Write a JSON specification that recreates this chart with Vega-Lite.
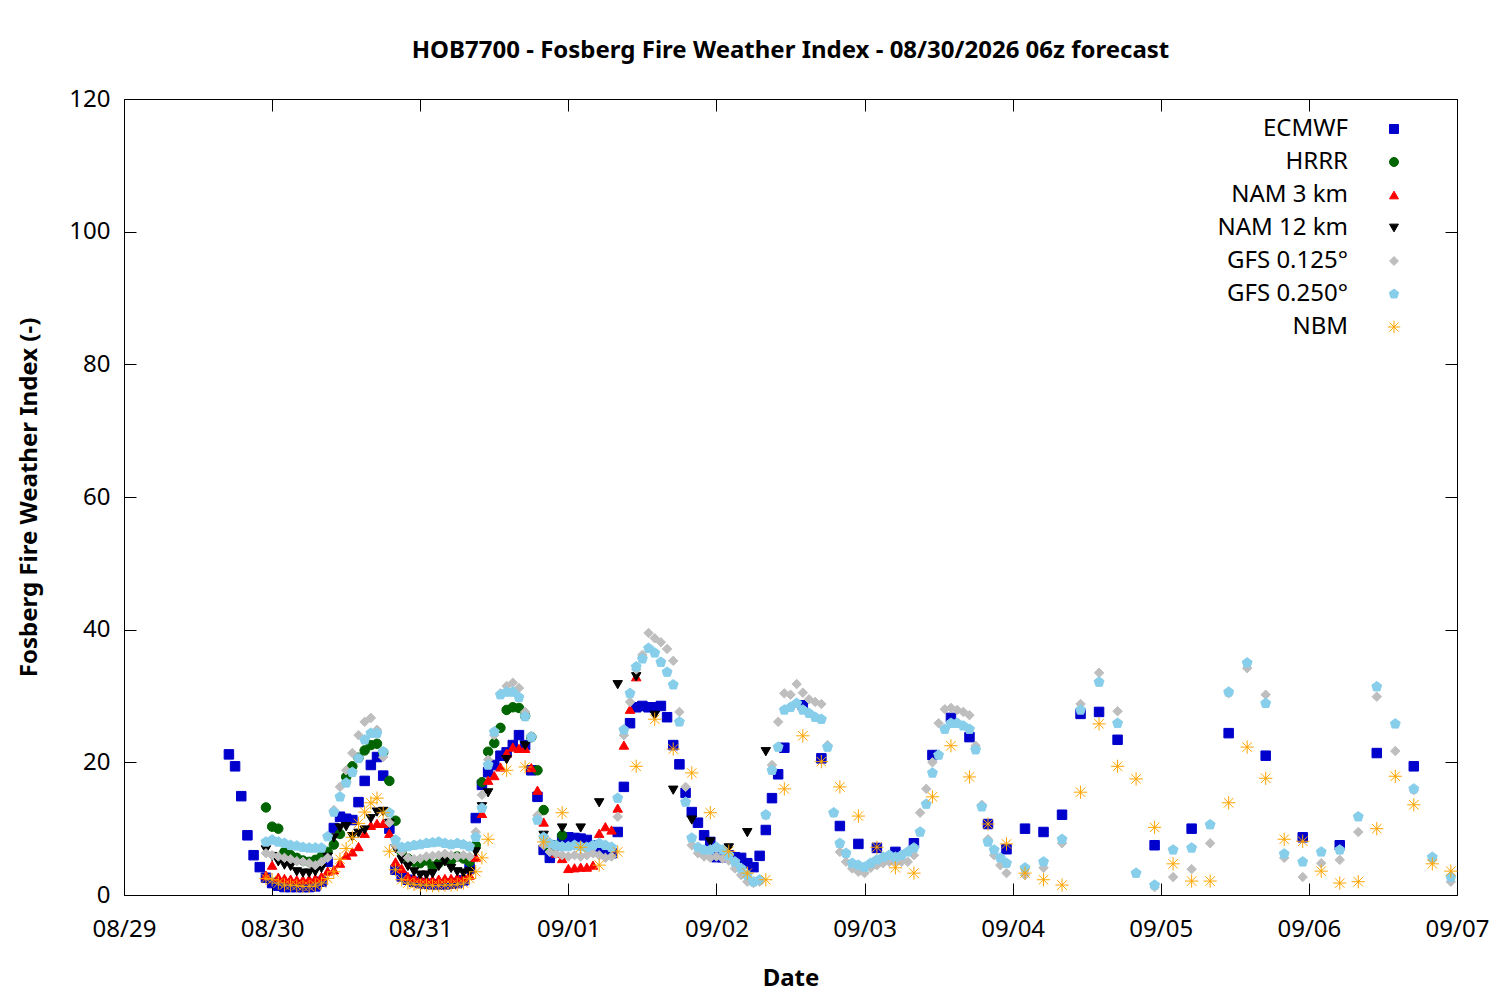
{
"$schema": "https://vega.github.io/schema/vega-lite/v6.json",
"width": 1333, "height": 796,
"autosize": {"type": "none"},
"padding": {"left": 124, "top": 99, "right": 43, "bottom": 105},
"background": "white",
"config": {
  "font": "Noto Sans",
  "view": {"stroke": "black", "strokeWidth": 1},
  "axis": {"domain": false, "grid": false, "tickColor": "black", "tickSize": -12, "tickWidth": 1,
           "labelFont": "Noto Sans", "labelFontSize": 24, "labelColor": "black",
           "titleFont": "Noto Sans", "titleFontSize": 24, "titleFontWeight": "bold", "titleColor": "black"}
},
"title": {"text": "HOB7700 - Fosberg Fire Weather Index - 08/30/2026 06z forecast", "font": "Noto Sans", "fontSize": 24, "fontWeight": "bold", "color": "black", "anchor": "middle", "offset": 24},
"datasets": {"fwi": [
{"m":"ECMWF","t":"2026-08-29T17:00Z","v":21.2},{"m":"ECMWF","t":"2026-08-29T18:00Z","v":19.4},{"m":"ECMWF","t":"2026-08-29T19:00Z","v":14.9},{"m":"ECMWF","t":"2026-08-29T20:00Z","v":9.0},{"m":"ECMWF","t":"2026-08-29T21:00Z","v":6.0},{"m":"ECMWF","t":"2026-08-29T22:00Z","v":4.2},{"m":"ECMWF","t":"2026-08-29T23:00Z","v":2.6},
{"m":"ECMWF","t":"2026-08-30T00:00Z","v":1.8},{"m":"ECMWF","t":"2026-08-30T01:00Z","v":1.4},{"m":"ECMWF","t":"2026-08-30T02:00Z","v":1.2},{"m":"ECMWF","t":"2026-08-30T03:00Z","v":1.2},{"m":"ECMWF","t":"2026-08-30T04:00Z","v":1.2},{"m":"ECMWF","t":"2026-08-30T05:00Z","v":1.2},{"m":"ECMWF","t":"2026-08-30T06:00Z","v":1.2},{"m":"ECMWF","t":"2026-08-30T07:00Z","v":1.3},{"m":"ECMWF","t":"2026-08-30T08:00Z","v":2.0},{"m":"ECMWF","t":"2026-08-30T09:00Z","v":5.0},{"m":"ECMWF","t":"2026-08-30T10:00Z","v":10.1},{"m":"ECMWF","t":"2026-08-30T11:00Z","v":11.8},{"m":"ECMWF","t":"2026-08-30T12:00Z","v":11.5},{"m":"ECMWF","t":"2026-08-30T13:00Z","v":11.3},{"m":"ECMWF","t":"2026-08-30T14:00Z","v":14.0},{"m":"ECMWF","t":"2026-08-30T15:00Z","v":17.2},{"m":"ECMWF","t":"2026-08-30T16:00Z","v":19.6},{"m":"ECMWF","t":"2026-08-30T17:00Z","v":20.8},{"m":"ECMWF","t":"2026-08-30T18:00Z","v":18.0},{"m":"ECMWF","t":"2026-08-30T19:00Z","v":10.0},{"m":"ECMWF","t":"2026-08-30T20:00Z","v":3.8},{"m":"ECMWF","t":"2026-08-30T21:00Z","v":2.8},{"m":"ECMWF","t":"2026-08-30T22:00Z","v":2.3},{"m":"ECMWF","t":"2026-08-30T23:00Z","v":2.0},
{"m":"ECMWF","t":"2026-08-31T00:00Z","v":1.8},{"m":"ECMWF","t":"2026-08-31T01:00Z","v":1.7},{"m":"ECMWF","t":"2026-08-31T02:00Z","v":1.6},{"m":"ECMWF","t":"2026-08-31T03:00Z","v":1.6},{"m":"ECMWF","t":"2026-08-31T04:00Z","v":1.6},{"m":"ECMWF","t":"2026-08-31T05:00Z","v":1.7},{"m":"ECMWF","t":"2026-08-31T06:00Z","v":1.8},{"m":"ECMWF","t":"2026-08-31T07:00Z","v":2.2},{"m":"ECMWF","t":"2026-08-31T08:00Z","v":4.0},{"m":"ECMWF","t":"2026-08-31T09:00Z","v":11.6},{"m":"ECMWF","t":"2026-08-31T10:00Z","v":16.6},{"m":"ECMWF","t":"2026-08-31T11:00Z","v":18.5},{"m":"ECMWF","t":"2026-08-31T12:00Z","v":19.6},{"m":"ECMWF","t":"2026-08-31T13:00Z","v":21.0},{"m":"ECMWF","t":"2026-08-31T14:00Z","v":21.5},{"m":"ECMWF","t":"2026-08-31T15:00Z","v":22.6},{"m":"ECMWF","t":"2026-08-31T16:00Z","v":24.1},{"m":"ECMWF","t":"2026-08-31T17:00Z","v":22.6},{"m":"ECMWF","t":"2026-08-31T18:00Z","v":18.8},{"m":"ECMWF","t":"2026-08-31T19:00Z","v":14.8},{"m":"ECMWF","t":"2026-08-31T20:00Z","v":6.8},{"m":"ECMWF","t":"2026-08-31T21:00Z","v":5.6},{"m":"ECMWF","t":"2026-08-31T22:00Z","v":7.5},{"m":"ECMWF","t":"2026-08-31T23:00Z","v":8.5},
{"m":"ECMWF","t":"2026-09-01T00:00Z","v":8.7},{"m":"ECMWF","t":"2026-09-01T01:00Z","v":8.6},{"m":"ECMWF","t":"2026-09-01T02:00Z","v":8.5},{"m":"ECMWF","t":"2026-09-01T03:00Z","v":8.3},{"m":"ECMWF","t":"2026-09-01T04:00Z","v":7.5},{"m":"ECMWF","t":"2026-09-01T05:00Z","v":6.8},{"m":"ECMWF","t":"2026-09-01T06:00Z","v":6.3},{"m":"ECMWF","t":"2026-09-01T07:00Z","v":6.3},{"m":"ECMWF","t":"2026-09-01T08:00Z","v":9.5},{"m":"ECMWF","t":"2026-09-01T09:00Z","v":16.3},{"m":"ECMWF","t":"2026-09-01T10:00Z","v":25.9},{"m":"ECMWF","t":"2026-09-01T11:00Z","v":28.3},{"m":"ECMWF","t":"2026-09-01T12:00Z","v":28.5},{"m":"ECMWF","t":"2026-09-01T13:00Z","v":28.3},{"m":"ECMWF","t":"2026-09-01T14:00Z","v":28.3},{"m":"ECMWF","t":"2026-09-01T15:00Z","v":28.5},{"m":"ECMWF","t":"2026-09-01T16:00Z","v":26.8},{"m":"ECMWF","t":"2026-09-01T17:00Z","v":22.6},{"m":"ECMWF","t":"2026-09-01T18:00Z","v":19.7},{"m":"ECMWF","t":"2026-09-01T19:00Z","v":15.4},{"m":"ECMWF","t":"2026-09-01T20:00Z","v":12.5},{"m":"ECMWF","t":"2026-09-01T21:00Z","v":10.9},{"m":"ECMWF","t":"2026-09-01T22:00Z","v":9.0},{"m":"ECMWF","t":"2026-09-01T23:00Z","v":8.0},
{"m":"ECMWF","t":"2026-09-02T00:00Z","v":5.7},{"m":"ECMWF","t":"2026-09-02T01:00Z","v":5.7},{"m":"ECMWF","t":"2026-09-02T02:00Z","v":6.0},{"m":"ECMWF","t":"2026-09-02T03:00Z","v":5.7},{"m":"ECMWF","t":"2026-09-02T04:00Z","v":5.6},{"m":"ECMWF","t":"2026-09-02T05:00Z","v":4.8},{"m":"ECMWF","t":"2026-09-02T06:00Z","v":4.2},{"m":"ECMWF","t":"2026-09-02T07:00Z","v":5.9},{"m":"ECMWF","t":"2026-09-02T08:00Z","v":9.8},{"m":"ECMWF","t":"2026-09-02T09:00Z","v":14.6},{"m":"ECMWF","t":"2026-09-02T10:00Z","v":18.2},{"m":"ECMWF","t":"2026-09-02T11:00Z","v":22.2},{"m":"ECMWF","t":"2026-09-02T14:00Z","v":28.6},{"m":"ECMWF","t":"2026-09-02T17:00Z","v":20.6},{"m":"ECMWF","t":"2026-09-02T20:00Z","v":10.4},{"m":"ECMWF","t":"2026-09-02T23:00Z","v":7.7},
{"m":"ECMWF","t":"2026-09-03T02:00Z","v":7.1},{"m":"ECMWF","t":"2026-09-03T05:00Z","v":6.5},{"m":"ECMWF","t":"2026-09-03T08:00Z","v":7.8},{"m":"ECMWF","t":"2026-09-03T11:00Z","v":21.1},{"m":"ECMWF","t":"2026-09-03T14:00Z","v":26.7},{"m":"ECMWF","t":"2026-09-03T17:00Z","v":23.8},{"m":"ECMWF","t":"2026-09-03T20:00Z","v":10.7},{"m":"ECMWF","t":"2026-09-03T23:00Z","v":6.9},
{"m":"ECMWF","t":"2026-09-04T02:00Z","v":10.0},{"m":"ECMWF","t":"2026-09-04T05:00Z","v":9.5},{"m":"ECMWF","t":"2026-09-04T08:00Z","v":12.1},{"m":"ECMWF","t":"2026-09-04T11:00Z","v":27.3},{"m":"ECMWF","t":"2026-09-04T14:00Z","v":27.6},{"m":"ECMWF","t":"2026-09-04T17:00Z","v":23.4},{"m":"ECMWF","t":"2026-09-04T23:00Z","v":7.5},
{"m":"ECMWF","t":"2026-09-05T05:00Z","v":10.0},{"m":"ECMWF","t":"2026-09-05T11:00Z","v":24.4},{"m":"ECMWF","t":"2026-09-05T17:00Z","v":21.0},{"m":"ECMWF","t":"2026-09-05T23:00Z","v":8.7},
{"m":"ECMWF","t":"2026-09-06T05:00Z","v":7.5},{"m":"ECMWF","t":"2026-09-06T11:00Z","v":21.4},{"m":"ECMWF","t":"2026-09-06T17:00Z","v":19.4},

{"m":"HRRR","t":"2026-08-29T23:00Z","v":13.2},
{"m":"HRRR","t":"2026-08-30T00:00Z","v":10.3},{"m":"HRRR","t":"2026-08-30T01:00Z","v":10.0},{"m":"HRRR","t":"2026-08-30T02:00Z","v":6.5},{"m":"HRRR","t":"2026-08-30T03:00Z","v":6.0},{"m":"HRRR","t":"2026-08-30T04:00Z","v":5.6},{"m":"HRRR","t":"2026-08-30T05:00Z","v":5.2},{"m":"HRRR","t":"2026-08-30T06:00Z","v":5.0},{"m":"HRRR","t":"2026-08-30T07:00Z","v":5.3},{"m":"HRRR","t":"2026-08-30T08:00Z","v":5.8},{"m":"HRRR","t":"2026-08-30T09:00Z","v":6.5},{"m":"HRRR","t":"2026-08-30T10:00Z","v":7.6},{"m":"HRRR","t":"2026-08-30T11:00Z","v":9.2},{"m":"HRRR","t":"2026-08-30T12:00Z","v":17.8},{"m":"HRRR","t":"2026-08-30T13:00Z","v":19.4},{"m":"HRRR","t":"2026-08-30T14:00Z","v":20.7},{"m":"HRRR","t":"2026-08-30T15:00Z","v":21.8},{"m":"HRRR","t":"2026-08-30T16:00Z","v":22.6},{"m":"HRRR","t":"2026-08-30T17:00Z","v":22.8},{"m":"HRRR","t":"2026-08-30T18:00Z","v":21.5},{"m":"HRRR","t":"2026-08-30T19:00Z","v":17.2},{"m":"HRRR","t":"2026-08-30T20:00Z","v":11.2},{"m":"HRRR","t":"2026-08-30T21:00Z","v":6.5},{"m":"HRRR","t":"2026-08-30T22:00Z","v":5.5},{"m":"HRRR","t":"2026-08-30T23:00Z","v":5.0},
{"m":"HRRR","t":"2026-08-31T00:00Z","v":4.8},{"m":"HRRR","t":"2026-08-31T01:00Z","v":5.2},{"m":"HRRR","t":"2026-08-31T02:00Z","v":4.3},{"m":"HRRR","t":"2026-08-31T03:00Z","v":4.8},{"m":"HRRR","t":"2026-08-31T04:00Z","v":5.4},{"m":"HRRR","t":"2026-08-31T05:00Z","v":5.2},{"m":"HRRR","t":"2026-08-31T06:00Z","v":5.8},{"m":"HRRR","t":"2026-08-31T07:00Z","v":5.5},{"m":"HRRR","t":"2026-08-31T08:00Z","v":5.0},{"m":"HRRR","t":"2026-08-31T09:00Z","v":7.5},{"m":"HRRR","t":"2026-08-31T10:00Z","v":17.0},{"m":"HRRR","t":"2026-08-31T11:00Z","v":21.6},{"m":"HRRR","t":"2026-08-31T12:00Z","v":22.9},{"m":"HRRR","t":"2026-08-31T13:00Z","v":25.2},{"m":"HRRR","t":"2026-08-31T14:00Z","v":27.9},{"m":"HRRR","t":"2026-08-31T15:00Z","v":28.3},{"m":"HRRR","t":"2026-08-31T16:00Z","v":28.2},{"m":"HRRR","t":"2026-08-31T17:00Z","v":27.0},{"m":"HRRR","t":"2026-08-31T18:00Z","v":23.8},{"m":"HRRR","t":"2026-08-31T19:00Z","v":18.8},{"m":"HRRR","t":"2026-08-31T20:00Z","v":12.8},{"m":"HRRR","t":"2026-08-31T21:00Z","v":7.0},{"m":"HRRR","t":"2026-08-31T22:00Z","v":7.5},{"m":"HRRR","t":"2026-08-31T23:00Z","v":9.0},

{"m":"NAM 3 km","t":"2026-08-29T23:00Z","v":3.0},
{"m":"NAM 3 km","t":"2026-08-30T00:00Z","v":4.5},{"m":"NAM 3 km","t":"2026-08-30T01:00Z","v":2.7},{"m":"NAM 3 km","t":"2026-08-30T02:00Z","v":2.5},{"m":"NAM 3 km","t":"2026-08-30T03:00Z","v":2.4},{"m":"NAM 3 km","t":"2026-08-30T04:00Z","v":2.3},{"m":"NAM 3 km","t":"2026-08-30T05:00Z","v":2.3},{"m":"NAM 3 km","t":"2026-08-30T06:00Z","v":2.4},{"m":"NAM 3 km","t":"2026-08-30T07:00Z","v":2.5},{"m":"NAM 3 km","t":"2026-08-30T08:00Z","v":2.8},{"m":"NAM 3 km","t":"2026-08-30T09:00Z","v":3.6},{"m":"NAM 3 km","t":"2026-08-30T10:00Z","v":3.8},{"m":"NAM 3 km","t":"2026-08-30T11:00Z","v":4.8},{"m":"NAM 3 km","t":"2026-08-30T12:00Z","v":6.0},{"m":"NAM 3 km","t":"2026-08-30T13:00Z","v":6.5},{"m":"NAM 3 km","t":"2026-08-30T14:00Z","v":7.3},{"m":"NAM 3 km","t":"2026-08-30T15:00Z","v":9.3},{"m":"NAM 3 km","t":"2026-08-30T16:00Z","v":10.5},{"m":"NAM 3 km","t":"2026-08-30T17:00Z","v":10.8},{"m":"NAM 3 km","t":"2026-08-30T18:00Z","v":10.8},{"m":"NAM 3 km","t":"2026-08-30T19:00Z","v":9.3},{"m":"NAM 3 km","t":"2026-08-30T20:00Z","v":5.0},{"m":"NAM 3 km","t":"2026-08-30T21:00Z","v":4.0},{"m":"NAM 3 km","t":"2026-08-30T22:00Z","v":2.8},{"m":"NAM 3 km","t":"2026-08-30T23:00Z","v":2.6},
{"m":"NAM 3 km","t":"2026-08-31T00:00Z","v":2.5},{"m":"NAM 3 km","t":"2026-08-31T01:00Z","v":2.4},{"m":"NAM 3 km","t":"2026-08-31T02:00Z","v":2.3},{"m":"NAM 3 km","t":"2026-08-31T03:00Z","v":2.4},{"m":"NAM 3 km","t":"2026-08-31T04:00Z","v":2.5},{"m":"NAM 3 km","t":"2026-08-31T05:00Z","v":2.5},{"m":"NAM 3 km","t":"2026-08-31T06:00Z","v":2.6},{"m":"NAM 3 km","t":"2026-08-31T07:00Z","v":2.7},{"m":"NAM 3 km","t":"2026-08-31T08:00Z","v":3.0},{"m":"NAM 3 km","t":"2026-08-31T09:00Z","v":5.7},{"m":"NAM 3 km","t":"2026-08-31T10:00Z","v":12.3},{"m":"NAM 3 km","t":"2026-08-31T11:00Z","v":17.3},{"m":"NAM 3 km","t":"2026-08-31T12:00Z","v":18.0},{"m":"NAM 3 km","t":"2026-08-31T13:00Z","v":19.3},{"m":"NAM 3 km","t":"2026-08-31T14:00Z","v":21.4},{"m":"NAM 3 km","t":"2026-08-31T15:00Z","v":22.3},{"m":"NAM 3 km","t":"2026-08-31T16:00Z","v":22.1},{"m":"NAM 3 km","t":"2026-08-31T17:00Z","v":22.1},{"m":"NAM 3 km","t":"2026-08-31T18:00Z","v":19.2},{"m":"NAM 3 km","t":"2026-08-31T19:00Z","v":15.8},{"m":"NAM 3 km","t":"2026-08-31T20:00Z","v":11.0},{"m":"NAM 3 km","t":"2026-08-31T21:00Z","v":8.0},{"m":"NAM 3 km","t":"2026-08-31T22:00Z","v":6.3},{"m":"NAM 3 km","t":"2026-08-31T23:00Z","v":5.5},
{"m":"NAM 3 km","t":"2026-09-01T00:00Z","v":4.0},{"m":"NAM 3 km","t":"2026-09-01T01:00Z","v":4.1},{"m":"NAM 3 km","t":"2026-09-01T02:00Z","v":4.2},{"m":"NAM 3 km","t":"2026-09-01T03:00Z","v":4.2},{"m":"NAM 3 km","t":"2026-09-01T04:00Z","v":4.5},{"m":"NAM 3 km","t":"2026-09-01T05:00Z","v":9.3},{"m":"NAM 3 km","t":"2026-09-01T06:00Z","v":10.3},{"m":"NAM 3 km","t":"2026-09-01T07:00Z","v":9.8},{"m":"NAM 3 km","t":"2026-09-01T08:00Z","v":13.1},{"m":"NAM 3 km","t":"2026-09-01T09:00Z","v":22.6},{"m":"NAM 3 km","t":"2026-09-01T10:00Z","v":28.0},{"m":"NAM 3 km","t":"2026-09-01T11:00Z","v":32.9},

{"m":"NAM 12 km","t":"2026-08-29T23:00Z","v":6.8},
{"m":"NAM 12 km","t":"2026-08-30T00:00Z","v":5.8},{"m":"NAM 12 km","t":"2026-08-30T01:00Z","v":5.0},{"m":"NAM 12 km","t":"2026-08-30T02:00Z","v":4.5},{"m":"NAM 12 km","t":"2026-08-30T03:00Z","v":4.3},{"m":"NAM 12 km","t":"2026-08-30T04:00Z","v":3.5},{"m":"NAM 12 km","t":"2026-08-30T05:00Z","v":3.3},{"m":"NAM 12 km","t":"2026-08-30T06:00Z","v":3.3},{"m":"NAM 12 km","t":"2026-08-30T07:00Z","v":3.5},{"m":"NAM 12 km","t":"2026-08-30T08:00Z","v":4.0},{"m":"NAM 12 km","t":"2026-08-30T09:00Z","v":5.7},{"m":"NAM 12 km","t":"2026-08-30T10:00Z","v":8.6},{"m":"NAM 12 km","t":"2026-08-30T11:00Z","v":10.1},{"m":"NAM 12 km","t":"2026-08-30T12:00Z","v":10.3},{"m":"NAM 12 km","t":"2026-08-30T13:00Z","v":8.8},{"m":"NAM 12 km","t":"2026-08-30T14:00Z","v":9.3},{"m":"NAM 12 km","t":"2026-08-30T15:00Z","v":9.8},{"m":"NAM 12 km","t":"2026-08-30T16:00Z","v":11.5},{"m":"NAM 12 km","t":"2026-08-30T17:00Z","v":12.5},{"m":"NAM 12 km","t":"2026-08-30T18:00Z","v":12.6},{"m":"NAM 12 km","t":"2026-08-30T19:00Z","v":10.8},{"m":"NAM 12 km","t":"2026-08-30T20:00Z","v":7.0},{"m":"NAM 12 km","t":"2026-08-30T21:00Z","v":5.3},{"m":"NAM 12 km","t":"2026-08-30T22:00Z","v":4.3},{"m":"NAM 12 km","t":"2026-08-30T23:00Z","v":3.5},
{"m":"NAM 12 km","t":"2026-08-31T00:00Z","v":3.0},{"m":"NAM 12 km","t":"2026-08-31T01:00Z","v":3.0},{"m":"NAM 12 km","t":"2026-08-31T02:00Z","v":3.2},{"m":"NAM 12 km","t":"2026-08-31T03:00Z","v":4.3},{"m":"NAM 12 km","t":"2026-08-31T04:00Z","v":5.0},{"m":"NAM 12 km","t":"2026-08-31T05:00Z","v":4.0},{"m":"NAM 12 km","t":"2026-08-31T06:00Z","v":3.5},{"m":"NAM 12 km","t":"2026-08-31T07:00Z","v":3.3},{"m":"NAM 12 km","t":"2026-08-31T08:00Z","v":3.5},{"m":"NAM 12 km","t":"2026-08-31T09:00Z","v":6.5},{"m":"NAM 12 km","t":"2026-08-31T10:00Z","v":13.3},{"m":"NAM 12 km","t":"2026-08-31T11:00Z","v":15.4},{"m":"NAM 12 km","t":"2026-08-31T14:00Z","v":20.4},{"m":"NAM 12 km","t":"2026-08-31T17:00Z","v":22.5},{"m":"NAM 12 km","t":"2026-08-31T20:00Z","v":9.0},{"m":"NAM 12 km","t":"2026-08-31T23:00Z","v":10.1},
{"m":"NAM 12 km","t":"2026-09-01T02:00Z","v":10.1},{"m":"NAM 12 km","t":"2026-09-01T05:00Z","v":13.9},{"m":"NAM 12 km","t":"2026-09-01T08:00Z","v":31.7},{"m":"NAM 12 km","t":"2026-09-01T11:00Z","v":32.9},{"m":"NAM 12 km","t":"2026-09-01T14:00Z","v":27.1},{"m":"NAM 12 km","t":"2026-09-01T17:00Z","v":15.8},{"m":"NAM 12 km","t":"2026-09-01T20:00Z","v":11.3},{"m":"NAM 12 km","t":"2026-09-01T23:00Z","v":8.0},
{"m":"NAM 12 km","t":"2026-09-02T02:00Z","v":7.1},{"m":"NAM 12 km","t":"2026-09-02T05:00Z","v":9.4},{"m":"NAM 12 km","t":"2026-09-02T08:00Z","v":21.6},

{"m":"GFS 0.125°","t":"2026-08-29T23:00Z","v":6.3},
{"m":"GFS 0.125°","t":"2026-08-30T00:00Z","v":6.0},{"m":"GFS 0.125°","t":"2026-08-30T01:00Z","v":5.8},{"m":"GFS 0.125°","t":"2026-08-30T02:00Z","v":5.6},{"m":"GFS 0.125°","t":"2026-08-30T03:00Z","v":5.4},{"m":"GFS 0.125°","t":"2026-08-30T04:00Z","v":5.1},{"m":"GFS 0.125°","t":"2026-08-30T05:00Z","v":5.0},{"m":"GFS 0.125°","t":"2026-08-30T06:00Z","v":4.8},{"m":"GFS 0.125°","t":"2026-08-30T07:00Z","v":4.5},{"m":"GFS 0.125°","t":"2026-08-30T08:00Z","v":5.0},{"m":"GFS 0.125°","t":"2026-08-30T09:00Z","v":5.6},{"m":"GFS 0.125°","t":"2026-08-30T10:00Z","v":12.8},{"m":"GFS 0.125°","t":"2026-08-30T11:00Z","v":16.3},{"m":"GFS 0.125°","t":"2026-08-30T12:00Z","v":18.8},{"m":"GFS 0.125°","t":"2026-08-30T13:00Z","v":21.4},{"m":"GFS 0.125°","t":"2026-08-30T14:00Z","v":24.1},{"m":"GFS 0.125°","t":"2026-08-30T15:00Z","v":26.1},{"m":"GFS 0.125°","t":"2026-08-30T16:00Z","v":26.7},{"m":"GFS 0.125°","t":"2026-08-30T17:00Z","v":24.9},{"m":"GFS 0.125°","t":"2026-08-30T18:00Z","v":20.8},{"m":"GFS 0.125°","t":"2026-08-30T19:00Z","v":10.9},{"m":"GFS 0.125°","t":"2026-08-30T20:00Z","v":7.5},{"m":"GFS 0.125°","t":"2026-08-30T21:00Z","v":6.5},{"m":"GFS 0.125°","t":"2026-08-30T22:00Z","v":5.6},{"m":"GFS 0.125°","t":"2026-08-30T23:00Z","v":5.4},
{"m":"GFS 0.125°","t":"2026-08-31T00:00Z","v":5.5},{"m":"GFS 0.125°","t":"2026-08-31T01:00Z","v":5.8},{"m":"GFS 0.125°","t":"2026-08-31T02:00Z","v":5.9},{"m":"GFS 0.125°","t":"2026-08-31T03:00Z","v":6.0},{"m":"GFS 0.125°","t":"2026-08-31T04:00Z","v":6.2},{"m":"GFS 0.125°","t":"2026-08-31T05:00Z","v":6.0},{"m":"GFS 0.125°","t":"2026-08-31T06:00Z","v":5.8},{"m":"GFS 0.125°","t":"2026-08-31T07:00Z","v":6.0},{"m":"GFS 0.125°","t":"2026-08-31T08:00Z","v":5.8},{"m":"GFS 0.125°","t":"2026-08-31T09:00Z","v":9.5},{"m":"GFS 0.125°","t":"2026-08-31T10:00Z","v":15.1},{"m":"GFS 0.125°","t":"2026-08-31T11:00Z","v":20.4},{"m":"GFS 0.125°","t":"2026-08-31T12:00Z","v":24.1},{"m":"GFS 0.125°","t":"2026-08-31T13:00Z","v":30.4},{"m":"GFS 0.125°","t":"2026-08-31T14:00Z","v":31.5},{"m":"GFS 0.125°","t":"2026-08-31T15:00Z","v":32.0},{"m":"GFS 0.125°","t":"2026-08-31T16:00Z","v":31.2},{"m":"GFS 0.125°","t":"2026-08-31T17:00Z","v":27.6},{"m":"GFS 0.125°","t":"2026-08-31T18:00Z","v":24.0},{"m":"GFS 0.125°","t":"2026-08-31T19:00Z","v":12.0},{"m":"GFS 0.125°","t":"2026-08-31T20:00Z","v":7.5},{"m":"GFS 0.125°","t":"2026-08-31T21:00Z","v":6.5},{"m":"GFS 0.125°","t":"2026-08-31T22:00Z","v":6.2},{"m":"GFS 0.125°","t":"2026-08-31T23:00Z","v":6.0},
{"m":"GFS 0.125°","t":"2026-09-01T00:00Z","v":5.8},{"m":"GFS 0.125°","t":"2026-09-01T01:00Z","v":6.0},{"m":"GFS 0.125°","t":"2026-09-01T02:00Z","v":5.8},{"m":"GFS 0.125°","t":"2026-09-01T03:00Z","v":6.0},{"m":"GFS 0.125°","t":"2026-09-01T04:00Z","v":6.3},{"m":"GFS 0.125°","t":"2026-09-01T05:00Z","v":6.0},{"m":"GFS 0.125°","t":"2026-09-01T06:00Z","v":5.6},{"m":"GFS 0.125°","t":"2026-09-01T07:00Z","v":5.8},{"m":"GFS 0.125°","t":"2026-09-01T08:00Z","v":11.8},{"m":"GFS 0.125°","t":"2026-09-01T09:00Z","v":24.1},{"m":"GFS 0.125°","t":"2026-09-01T10:00Z","v":29.1},{"m":"GFS 0.125°","t":"2026-09-01T11:00Z","v":34.0},{"m":"GFS 0.125°","t":"2026-09-01T12:00Z","v":36.2},{"m":"GFS 0.125°","t":"2026-09-01T13:00Z","v":39.5},{"m":"GFS 0.125°","t":"2026-09-01T14:00Z","v":38.7},{"m":"GFS 0.125°","t":"2026-09-01T15:00Z","v":38.1},{"m":"GFS 0.125°","t":"2026-09-01T16:00Z","v":37.1},{"m":"GFS 0.125°","t":"2026-09-01T17:00Z","v":35.3},{"m":"GFS 0.125°","t":"2026-09-01T18:00Z","v":27.6},{"m":"GFS 0.125°","t":"2026-09-01T19:00Z","v":16.3},{"m":"GFS 0.125°","t":"2026-09-01T20:00Z","v":7.5},{"m":"GFS 0.125°","t":"2026-09-01T21:00Z","v":6.3},{"m":"GFS 0.125°","t":"2026-09-01T22:00Z","v":5.8},{"m":"GFS 0.125°","t":"2026-09-01T23:00Z","v":5.6},
{"m":"GFS 0.125°","t":"2026-09-02T00:00Z","v":5.8},{"m":"GFS 0.125°","t":"2026-09-02T01:00Z","v":5.5},{"m":"GFS 0.125°","t":"2026-09-02T02:00Z","v":5.2},{"m":"GFS 0.125°","t":"2026-09-02T03:00Z","v":4.0},{"m":"GFS 0.125°","t":"2026-09-02T04:00Z","v":3.0},{"m":"GFS 0.125°","t":"2026-09-02T05:00Z","v":2.0},{"m":"GFS 0.125°","t":"2026-09-02T06:00Z","v":1.8},{"m":"GFS 0.125°","t":"2026-09-02T07:00Z","v":2.0},{"m":"GFS 0.125°","t":"2026-09-02T08:00Z","v":12.0},{"m":"GFS 0.125°","t":"2026-09-02T09:00Z","v":19.6},{"m":"GFS 0.125°","t":"2026-09-02T10:00Z","v":26.1},{"m":"GFS 0.125°","t":"2026-09-02T11:00Z","v":30.4},{"m":"GFS 0.125°","t":"2026-09-02T12:00Z","v":30.2},{"m":"GFS 0.125°","t":"2026-09-02T13:00Z","v":31.8},{"m":"GFS 0.125°","t":"2026-09-02T14:00Z","v":30.5},{"m":"GFS 0.125°","t":"2026-09-02T15:00Z","v":29.5},{"m":"GFS 0.125°","t":"2026-09-02T16:00Z","v":29.1},{"m":"GFS 0.125°","t":"2026-09-02T17:00Z","v":28.8},{"m":"GFS 0.125°","t":"2026-09-02T18:00Z","v":22.6},{"m":"GFS 0.125°","t":"2026-09-02T19:00Z","v":12.4},{"m":"GFS 0.125°","t":"2026-09-02T20:00Z","v":6.5},{"m":"GFS 0.125°","t":"2026-09-02T21:00Z","v":5.0},{"m":"GFS 0.125°","t":"2026-09-02T22:00Z","v":4.0},{"m":"GFS 0.125°","t":"2026-09-02T23:00Z","v":3.5},
{"m":"GFS 0.125°","t":"2026-09-03T00:00Z","v":3.3},{"m":"GFS 0.125°","t":"2026-09-03T01:00Z","v":4.1},{"m":"GFS 0.125°","t":"2026-09-03T02:00Z","v":4.5},{"m":"GFS 0.125°","t":"2026-09-03T03:00Z","v":4.8},{"m":"GFS 0.125°","t":"2026-09-03T04:00Z","v":5.0},{"m":"GFS 0.125°","t":"2026-09-03T05:00Z","v":5.0},{"m":"GFS 0.125°","t":"2026-09-03T06:00Z","v":5.0},{"m":"GFS 0.125°","t":"2026-09-03T07:00Z","v":5.0},{"m":"GFS 0.125°","t":"2026-09-03T08:00Z","v":6.0},{"m":"GFS 0.125°","t":"2026-09-03T09:00Z","v":12.4},{"m":"GFS 0.125°","t":"2026-09-03T10:00Z","v":16.0},{"m":"GFS 0.125°","t":"2026-09-03T11:00Z","v":20.0},{"m":"GFS 0.125°","t":"2026-09-03T12:00Z","v":25.9},{"m":"GFS 0.125°","t":"2026-09-03T13:00Z","v":28.0},{"m":"GFS 0.125°","t":"2026-09-03T14:00Z","v":28.2},{"m":"GFS 0.125°","t":"2026-09-03T15:00Z","v":27.9},{"m":"GFS 0.125°","t":"2026-09-03T16:00Z","v":27.6},{"m":"GFS 0.125°","t":"2026-09-03T17:00Z","v":27.1},{"m":"GFS 0.125°","t":"2026-09-03T18:00Z","v":22.5},{"m":"GFS 0.125°","t":"2026-09-03T19:00Z","v":13.6},{"m":"GFS 0.125°","t":"2026-09-03T20:00Z","v":8.4},{"m":"GFS 0.125°","t":"2026-09-03T21:00Z","v":6.0},{"m":"GFS 0.125°","t":"2026-09-03T22:00Z","v":4.5},{"m":"GFS 0.125°","t":"2026-09-03T23:00Z","v":3.3},
{"m":"GFS 0.125°","t":"2026-09-04T02:00Z","v":3.0},{"m":"GFS 0.125°","t":"2026-09-04T05:00Z","v":4.1},{"m":"GFS 0.125°","t":"2026-09-04T08:00Z","v":7.8},{"m":"GFS 0.125°","t":"2026-09-04T11:00Z","v":28.8},{"m":"GFS 0.125°","t":"2026-09-04T14:00Z","v":33.5},{"m":"GFS 0.125°","t":"2026-09-04T17:00Z","v":27.7},{"m":"GFS 0.125°","t":"2026-09-04T20:00Z","v":3.3},{"m":"GFS 0.125°","t":"2026-09-04T23:00Z","v":1.2},
{"m":"GFS 0.125°","t":"2026-09-05T02:00Z","v":2.7},{"m":"GFS 0.125°","t":"2026-09-05T05:00Z","v":3.9},{"m":"GFS 0.125°","t":"2026-09-05T08:00Z","v":7.8},{"m":"GFS 0.125°","t":"2026-09-05T11:00Z","v":30.4},{"m":"GFS 0.125°","t":"2026-09-05T14:00Z","v":34.2},{"m":"GFS 0.125°","t":"2026-09-05T17:00Z","v":30.2},{"m":"GFS 0.125°","t":"2026-09-05T20:00Z","v":5.6},{"m":"GFS 0.125°","t":"2026-09-05T23:00Z","v":2.7},
{"m":"GFS 0.125°","t":"2026-09-06T02:00Z","v":4.8},{"m":"GFS 0.125°","t":"2026-09-06T05:00Z","v":5.3},{"m":"GFS 0.125°","t":"2026-09-06T08:00Z","v":9.5},{"m":"GFS 0.125°","t":"2026-09-06T11:00Z","v":29.9},{"m":"GFS 0.125°","t":"2026-09-06T14:00Z","v":21.7},{"m":"GFS 0.125°","t":"2026-09-06T17:00Z","v":15.8},{"m":"GFS 0.125°","t":"2026-09-06T20:00Z","v":5.3},{"m":"GFS 0.125°","t":"2026-09-06T23:00Z","v":2.0},

{"m":"GFS 0.250°","t":"2026-08-29T23:00Z","v":8.0},
{"m":"GFS 0.250°","t":"2026-08-30T00:00Z","v":8.3},{"m":"GFS 0.250°","t":"2026-08-30T01:00Z","v":8.0},{"m":"GFS 0.250°","t":"2026-08-30T02:00Z","v":7.8},{"m":"GFS 0.250°","t":"2026-08-30T03:00Z","v":7.5},{"m":"GFS 0.250°","t":"2026-08-30T04:00Z","v":7.4},{"m":"GFS 0.250°","t":"2026-08-30T05:00Z","v":7.2},{"m":"GFS 0.250°","t":"2026-08-30T06:00Z","v":7.1},{"m":"GFS 0.250°","t":"2026-08-30T07:00Z","v":7.1},{"m":"GFS 0.250°","t":"2026-08-30T08:00Z","v":7.1},{"m":"GFS 0.250°","t":"2026-08-30T09:00Z","v":8.8},{"m":"GFS 0.250°","t":"2026-08-30T10:00Z","v":12.5},{"m":"GFS 0.250°","t":"2026-08-30T11:00Z","v":14.8},{"m":"GFS 0.250°","t":"2026-08-30T12:00Z","v":16.9},{"m":"GFS 0.250°","t":"2026-08-30T13:00Z","v":18.5},{"m":"GFS 0.250°","t":"2026-08-30T14:00Z","v":20.6},{"m":"GFS 0.250°","t":"2026-08-30T15:00Z","v":23.4},{"m":"GFS 0.250°","t":"2026-08-30T16:00Z","v":24.4},{"m":"GFS 0.250°","t":"2026-08-30T17:00Z","v":24.4},{"m":"GFS 0.250°","t":"2026-08-30T18:00Z","v":21.6},{"m":"GFS 0.250°","t":"2026-08-30T19:00Z","v":12.4},{"m":"GFS 0.250°","t":"2026-08-30T20:00Z","v":8.3},{"m":"GFS 0.250°","t":"2026-08-30T21:00Z","v":7.2},{"m":"GFS 0.250°","t":"2026-08-30T22:00Z","v":7.3},{"m":"GFS 0.250°","t":"2026-08-30T23:00Z","v":7.5},
{"m":"GFS 0.250°","t":"2026-08-31T00:00Z","v":7.6},{"m":"GFS 0.250°","t":"2026-08-31T01:00Z","v":7.8},{"m":"GFS 0.250°","t":"2026-08-31T02:00Z","v":7.9},{"m":"GFS 0.250°","t":"2026-08-31T03:00Z","v":8.0},{"m":"GFS 0.250°","t":"2026-08-31T04:00Z","v":7.8},{"m":"GFS 0.250°","t":"2026-08-31T05:00Z","v":7.6},{"m":"GFS 0.250°","t":"2026-08-31T06:00Z","v":7.8},{"m":"GFS 0.250°","t":"2026-08-31T07:00Z","v":7.6},{"m":"GFS 0.250°","t":"2026-08-31T08:00Z","v":7.3},{"m":"GFS 0.250°","t":"2026-08-31T09:00Z","v":8.7},{"m":"GFS 0.250°","t":"2026-08-31T10:00Z","v":13.1},{"m":"GFS 0.250°","t":"2026-08-31T11:00Z","v":19.6},{"m":"GFS 0.250°","t":"2026-08-31T12:00Z","v":24.6},{"m":"GFS 0.250°","t":"2026-08-31T13:00Z","v":30.2},{"m":"GFS 0.250°","t":"2026-08-31T14:00Z","v":30.6},{"m":"GFS 0.250°","t":"2026-08-31T15:00Z","v":30.6},{"m":"GFS 0.250°","t":"2026-08-31T16:00Z","v":29.8},{"m":"GFS 0.250°","t":"2026-08-31T17:00Z","v":26.9},{"m":"GFS 0.250°","t":"2026-08-31T18:00Z","v":23.8},{"m":"GFS 0.250°","t":"2026-08-31T19:00Z","v":11.3},{"m":"GFS 0.250°","t":"2026-08-31T20:00Z","v":8.7},{"m":"GFS 0.250°","t":"2026-08-31T21:00Z","v":7.8},{"m":"GFS 0.250°","t":"2026-08-31T22:00Z","v":7.5},{"m":"GFS 0.250°","t":"2026-08-31T23:00Z","v":7.3},
{"m":"GFS 0.250°","t":"2026-09-01T00:00Z","v":7.3},{"m":"GFS 0.250°","t":"2026-09-01T01:00Z","v":7.5},{"m":"GFS 0.250°","t":"2026-09-01T02:00Z","v":7.3},{"m":"GFS 0.250°","t":"2026-09-01T03:00Z","v":7.2},{"m":"GFS 0.250°","t":"2026-09-01T04:00Z","v":7.5},{"m":"GFS 0.250°","t":"2026-09-01T05:00Z","v":7.8},{"m":"GFS 0.250°","t":"2026-09-01T06:00Z","v":7.5},{"m":"GFS 0.250°","t":"2026-09-01T07:00Z","v":7.2},{"m":"GFS 0.250°","t":"2026-09-01T08:00Z","v":14.6},{"m":"GFS 0.250°","t":"2026-09-01T09:00Z","v":24.9},{"m":"GFS 0.250°","t":"2026-09-01T10:00Z","v":30.4},{"m":"GFS 0.250°","t":"2026-09-01T11:00Z","v":34.4},{"m":"GFS 0.250°","t":"2026-09-01T12:00Z","v":35.6},{"m":"GFS 0.250°","t":"2026-09-01T13:00Z","v":37.2},{"m":"GFS 0.250°","t":"2026-09-01T14:00Z","v":36.5},{"m":"GFS 0.250°","t":"2026-09-01T15:00Z","v":35.1},{"m":"GFS 0.250°","t":"2026-09-01T16:00Z","v":33.6},{"m":"GFS 0.250°","t":"2026-09-01T17:00Z","v":31.7},{"m":"GFS 0.250°","t":"2026-09-01T18:00Z","v":26.1},{"m":"GFS 0.250°","t":"2026-09-01T19:00Z","v":14.0},{"m":"GFS 0.250°","t":"2026-09-01T20:00Z","v":8.6},{"m":"GFS 0.250°","t":"2026-09-01T21:00Z","v":7.2},{"m":"GFS 0.250°","t":"2026-09-01T22:00Z","v":6.8},{"m":"GFS 0.250°","t":"2026-09-01T23:00Z","v":6.8},
{"m":"GFS 0.250°","t":"2026-09-02T00:00Z","v":7.2},{"m":"GFS 0.250°","t":"2026-09-02T01:00Z","v":6.8},{"m":"GFS 0.250°","t":"2026-09-02T02:00Z","v":6.0},{"m":"GFS 0.250°","t":"2026-09-02T03:00Z","v":5.0},{"m":"GFS 0.250°","t":"2026-09-02T04:00Z","v":4.0},{"m":"GFS 0.250°","t":"2026-09-02T05:00Z","v":3.0},{"m":"GFS 0.250°","t":"2026-09-02T06:00Z","v":2.0},{"m":"GFS 0.250°","t":"2026-09-02T07:00Z","v":2.3},{"m":"GFS 0.250°","t":"2026-09-02T08:00Z","v":12.1},{"m":"GFS 0.250°","t":"2026-09-02T09:00Z","v":18.8},{"m":"GFS 0.250°","t":"2026-09-02T10:00Z","v":22.3},{"m":"GFS 0.250°","t":"2026-09-02T11:00Z","v":27.9},{"m":"GFS 0.250°","t":"2026-09-02T12:00Z","v":28.3},{"m":"GFS 0.250°","t":"2026-09-02T13:00Z","v":28.9},{"m":"GFS 0.250°","t":"2026-09-02T14:00Z","v":27.9},{"m":"GFS 0.250°","t":"2026-09-02T15:00Z","v":27.4},{"m":"GFS 0.250°","t":"2026-09-02T16:00Z","v":26.8},{"m":"GFS 0.250°","t":"2026-09-02T17:00Z","v":26.5},{"m":"GFS 0.250°","t":"2026-09-02T18:00Z","v":22.3},{"m":"GFS 0.250°","t":"2026-09-02T19:00Z","v":12.4},{"m":"GFS 0.250°","t":"2026-09-02T20:00Z","v":7.8},{"m":"GFS 0.250°","t":"2026-09-02T21:00Z","v":6.3},{"m":"GFS 0.250°","t":"2026-09-02T22:00Z","v":4.8},{"m":"GFS 0.250°","t":"2026-09-02T23:00Z","v":4.5},
{"m":"GFS 0.250°","t":"2026-09-03T00:00Z","v":4.2},{"m":"GFS 0.250°","t":"2026-09-03T01:00Z","v":4.8},{"m":"GFS 0.250°","t":"2026-09-03T02:00Z","v":5.3},{"m":"GFS 0.250°","t":"2026-09-03T03:00Z","v":5.7},{"m":"GFS 0.250°","t":"2026-09-03T04:00Z","v":6.0},{"m":"GFS 0.250°","t":"2026-09-03T05:00Z","v":5.7},{"m":"GFS 0.250°","t":"2026-09-03T06:00Z","v":6.0},{"m":"GFS 0.250°","t":"2026-09-03T07:00Z","v":6.5},{"m":"GFS 0.250°","t":"2026-09-03T08:00Z","v":7.1},{"m":"GFS 0.250°","t":"2026-09-03T09:00Z","v":9.5},{"m":"GFS 0.250°","t":"2026-09-03T10:00Z","v":13.7},{"m":"GFS 0.250°","t":"2026-09-03T11:00Z","v":18.4},{"m":"GFS 0.250°","t":"2026-09-03T12:00Z","v":21.1},{"m":"GFS 0.250°","t":"2026-09-03T13:00Z","v":25.0},{"m":"GFS 0.250°","t":"2026-09-03T14:00Z","v":25.9},{"m":"GFS 0.250°","t":"2026-09-03T15:00Z","v":25.9},{"m":"GFS 0.250°","t":"2026-09-03T16:00Z","v":25.5},{"m":"GFS 0.250°","t":"2026-09-03T17:00Z","v":25.0},{"m":"GFS 0.250°","t":"2026-09-03T18:00Z","v":21.9},{"m":"GFS 0.250°","t":"2026-09-03T19:00Z","v":13.3},{"m":"GFS 0.250°","t":"2026-09-03T20:00Z","v":8.0},{"m":"GFS 0.250°","t":"2026-09-03T21:00Z","v":6.8},{"m":"GFS 0.250°","t":"2026-09-03T22:00Z","v":5.6},{"m":"GFS 0.250°","t":"2026-09-03T23:00Z","v":4.8},
{"m":"GFS 0.250°","t":"2026-09-04T02:00Z","v":4.1},{"m":"GFS 0.250°","t":"2026-09-04T05:00Z","v":5.0},{"m":"GFS 0.250°","t":"2026-09-04T08:00Z","v":8.4},{"m":"GFS 0.250°","t":"2026-09-04T11:00Z","v":27.9},{"m":"GFS 0.250°","t":"2026-09-04T14:00Z","v":32.1},{"m":"GFS 0.250°","t":"2026-09-04T17:00Z","v":25.9},{"m":"GFS 0.250°","t":"2026-09-04T20:00Z","v":3.3},{"m":"GFS 0.250°","t":"2026-09-04T23:00Z","v":1.5},
{"m":"GFS 0.250°","t":"2026-09-05T02:00Z","v":6.8},{"m":"GFS 0.250°","t":"2026-09-05T05:00Z","v":7.1},{"m":"GFS 0.250°","t":"2026-09-05T08:00Z","v":10.6},{"m":"GFS 0.250°","t":"2026-09-05T11:00Z","v":30.6},{"m":"GFS 0.250°","t":"2026-09-05T14:00Z","v":35.0},{"m":"GFS 0.250°","t":"2026-09-05T17:00Z","v":28.9},{"m":"GFS 0.250°","t":"2026-09-05T20:00Z","v":6.2},{"m":"GFS 0.250°","t":"2026-09-05T23:00Z","v":5.0},
{"m":"GFS 0.250°","t":"2026-09-06T02:00Z","v":6.5},{"m":"GFS 0.250°","t":"2026-09-06T05:00Z","v":6.8},{"m":"GFS 0.250°","t":"2026-09-06T08:00Z","v":11.8},{"m":"GFS 0.250°","t":"2026-09-06T11:00Z","v":31.4},{"m":"GFS 0.250°","t":"2026-09-06T14:00Z","v":25.8},{"m":"GFS 0.250°","t":"2026-09-06T17:00Z","v":16.0},{"m":"GFS 0.250°","t":"2026-09-06T20:00Z","v":5.7},{"m":"GFS 0.250°","t":"2026-09-06T23:00Z","v":2.7},

{"m":"NBM","t":"2026-08-29T23:00Z","v":2.5},
{"m":"NBM","t":"2026-08-30T00:00Z","v":2.3},{"m":"NBM","t":"2026-08-30T01:00Z","v":1.8},{"m":"NBM","t":"2026-08-30T02:00Z","v":1.5},{"m":"NBM","t":"2026-08-30T03:00Z","v":1.5},{"m":"NBM","t":"2026-08-30T04:00Z","v":1.4},{"m":"NBM","t":"2026-08-30T05:00Z","v":1.3},{"m":"NBM","t":"2026-08-30T06:00Z","v":1.3},{"m":"NBM","t":"2026-08-30T07:00Z","v":1.5},{"m":"NBM","t":"2026-08-30T08:00Z","v":1.8},{"m":"NBM","t":"2026-08-30T09:00Z","v":2.5},{"m":"NBM","t":"2026-08-30T10:00Z","v":3.5},{"m":"NBM","t":"2026-08-30T11:00Z","v":5.4},{"m":"NBM","t":"2026-08-30T12:00Z","v":7.0},{"m":"NBM","t":"2026-08-30T13:00Z","v":8.7},{"m":"NBM","t":"2026-08-30T14:00Z","v":10.8},{"m":"NBM","t":"2026-08-30T15:00Z","v":12.5},{"m":"NBM","t":"2026-08-30T16:00Z","v":13.9},{"m":"NBM","t":"2026-08-30T17:00Z","v":14.6},{"m":"NBM","t":"2026-08-30T18:00Z","v":12.4},{"m":"NBM","t":"2026-08-30T19:00Z","v":6.6},{"m":"NBM","t":"2026-08-30T20:00Z","v":3.8},{"m":"NBM","t":"2026-08-30T21:00Z","v":2.3},{"m":"NBM","t":"2026-08-30T22:00Z","v":1.8},{"m":"NBM","t":"2026-08-30T23:00Z","v":1.6},
{"m":"NBM","t":"2026-08-31T00:00Z","v":1.5},{"m":"NBM","t":"2026-08-31T01:00Z","v":1.5},{"m":"NBM","t":"2026-08-31T02:00Z","v":1.4},{"m":"NBM","t":"2026-08-31T03:00Z","v":1.4},{"m":"NBM","t":"2026-08-31T04:00Z","v":1.5},{"m":"NBM","t":"2026-08-31T05:00Z","v":1.5},{"m":"NBM","t":"2026-08-31T06:00Z","v":1.6},{"m":"NBM","t":"2026-08-31T07:00Z","v":1.8},{"m":"NBM","t":"2026-08-31T08:00Z","v":2.5},{"m":"NBM","t":"2026-08-31T09:00Z","v":3.5},{"m":"NBM","t":"2026-08-31T10:00Z","v":5.6},{"m":"NBM","t":"2026-08-31T11:00Z","v":8.4},{"m":"NBM","t":"2026-08-31T14:00Z","v":18.8},{"m":"NBM","t":"2026-08-31T17:00Z","v":19.3},{"m":"NBM","t":"2026-08-31T20:00Z","v":8.0},{"m":"NBM","t":"2026-08-31T23:00Z","v":12.4},
{"m":"NBM","t":"2026-09-01T02:00Z","v":7.2},{"m":"NBM","t":"2026-09-01T05:00Z","v":4.5},{"m":"NBM","t":"2026-09-01T08:00Z","v":6.5},{"m":"NBM","t":"2026-09-01T11:00Z","v":19.4},{"m":"NBM","t":"2026-09-01T14:00Z","v":26.5},{"m":"NBM","t":"2026-09-01T17:00Z","v":22.0},{"m":"NBM","t":"2026-09-01T20:00Z","v":18.4},{"m":"NBM","t":"2026-09-01T23:00Z","v":12.4},
{"m":"NBM","t":"2026-09-02T02:00Z","v":6.6},{"m":"NBM","t":"2026-09-02T05:00Z","v":3.3},{"m":"NBM","t":"2026-09-02T08:00Z","v":2.3},{"m":"NBM","t":"2026-09-02T11:00Z","v":16.0},{"m":"NBM","t":"2026-09-02T14:00Z","v":24.0},{"m":"NBM","t":"2026-09-02T17:00Z","v":20.1},{"m":"NBM","t":"2026-09-02T20:00Z","v":16.3},{"m":"NBM","t":"2026-09-02T23:00Z","v":11.9},
{"m":"NBM","t":"2026-09-03T02:00Z","v":7.2},{"m":"NBM","t":"2026-09-03T05:00Z","v":4.1},{"m":"NBM","t":"2026-09-03T08:00Z","v":3.3},{"m":"NBM","t":"2026-09-03T11:00Z","v":14.8},{"m":"NBM","t":"2026-09-03T14:00Z","v":22.5},{"m":"NBM","t":"2026-09-03T17:00Z","v":17.8},{"m":"NBM","t":"2026-09-03T20:00Z","v":10.7},{"m":"NBM","t":"2026-09-03T23:00Z","v":7.7},
{"m":"NBM","t":"2026-09-04T02:00Z","v":3.3},{"m":"NBM","t":"2026-09-04T05:00Z","v":2.3},{"m":"NBM","t":"2026-09-04T08:00Z","v":1.5},{"m":"NBM","t":"2026-09-04T11:00Z","v":15.5},{"m":"NBM","t":"2026-09-04T14:00Z","v":25.8},{"m":"NBM","t":"2026-09-04T17:00Z","v":19.4},{"m":"NBM","t":"2026-09-04T20:00Z","v":17.5},{"m":"NBM","t":"2026-09-04T23:00Z","v":10.2},
{"m":"NBM","t":"2026-09-05T02:00Z","v":4.7},{"m":"NBM","t":"2026-09-05T05:00Z","v":2.1},{"m":"NBM","t":"2026-09-05T08:00Z","v":2.1},{"m":"NBM","t":"2026-09-05T11:00Z","v":13.9},{"m":"NBM","t":"2026-09-05T14:00Z","v":22.3},{"m":"NBM","t":"2026-09-05T17:00Z","v":17.6},{"m":"NBM","t":"2026-09-05T20:00Z","v":8.4},{"m":"NBM","t":"2026-09-05T23:00Z","v":8.1},
{"m":"NBM","t":"2026-09-06T02:00Z","v":3.6},{"m":"NBM","t":"2026-09-06T05:00Z","v":1.8},{"m":"NBM","t":"2026-09-06T08:00Z","v":2.0},{"m":"NBM","t":"2026-09-06T11:00Z","v":10.0},{"m":"NBM","t":"2026-09-06T14:00Z","v":17.9},{"m":"NBM","t":"2026-09-06T17:00Z","v":13.6},{"m":"NBM","t":"2026-09-06T20:00Z","v":4.7},{"m":"NBM","t":"2026-09-06T23:00Z","v":3.6}
]},
"data": {"name": "fwi"},
"layer": [
  {
    "mark": {"type": "point", "filled": true, "size": 90, "strokeWidth": 1, "opacity": 1},
    "encoding": {
      "x": {"field": "t", "type": "temporal",
            "scale": {"type": "utc", "domain": [{"year": 2026, "month": 8, "date": 29, "utc": true}, {"year": 2026, "month": 9, "date": 7, "utc": true}], "nice": false},
            "axis": {"title": "Date", "format": "%m/%d", "tickCount": {"interval": "day", "step": 1}, "labelFlush": false, "labelOverlap": false, "labelPadding": 34, "titlePadding": 25}},
      "y": {"field": "v", "type": "quantitative",
            "scale": {"domain": [0, 120], "nice": false},
            "axis": {"title": "Fosberg Fire Weather Index (-)", "values": [0, 20, 40, 60, 80, 100, 120], "labelPadding": 26, "titlePadding": 27}},
      "fill": {"field": "m", "type": "nominal",
               "scale": {"domain": ["ECMWF", "HRRR", "NAM 3 km", "NAM 12 km", "GFS 0.125°", "GFS 0.250°", "NBM"],
                         "range": ["#0000cc", "#006400", "#ff0000", "#000000", "#bebebe", "#87ceeb", "#ffa500"]},
               "legend": {"title": null, "orient": "none", "legendX": 1258, "legendY": 18, "labelAlign": "right", "labelOffset": -58, "labelFont": "Noto Sans", "labelFontSize": 24, "labelColor": "black", "labelLimit": 400, "symbolSize": 80, "symbolStrokeWidth": 1, "rowPadding": 9, "padding": 0}},
      "stroke": {"field": "m", "type": "nominal",
               "scale": {"domain": ["ECMWF", "HRRR", "NAM 3 km", "NAM 12 km", "GFS 0.125°", "GFS 0.250°", "NBM"],
                         "range": ["#0000cc", "#006400", "#ff0000", "#000000", "#bebebe", "#87ceeb", "#ffa500"]},
               "legend": {"title": null, "orient": "none", "legendX": 1258, "legendY": 18, "labelAlign": "right", "labelOffset": -58, "labelFont": "Noto Sans", "labelFontSize": 24, "labelColor": "black", "labelLimit": 400, "symbolSize": 80, "symbolStrokeWidth": 1, "rowPadding": 9, "padding": 0}},
      "shape": {"field": "m", "type": "nominal",
               "scale": {"domain": ["ECMWF", "HRRR", "NAM 3 km", "NAM 12 km", "GFS 0.125°", "GFS 0.250°", "NBM"],
                         "range": ["square", "circle", "triangle-up", "triangle-down", "diamond", "M0,-1.1L1.05,-0.34L0.65,0.89L-0.65,0.89L-1.05,-0.34Z", "M-1.4,0L1.4,0M0,-1.4L0,1.4M-1,-1L1,1M-1,1L1,-1"]},
               "legend": {"title": null, "orient": "none", "legendX": 1258, "legendY": 18, "labelAlign": "right", "labelOffset": -58, "labelFont": "Noto Sans", "labelFontSize": 24, "labelColor": "black", "labelLimit": 400, "symbolSize": 80, "symbolStrokeWidth": 1, "rowPadding": 9, "padding": 0}}
    }
  },
  {
    "mark": {"type": "point", "opacity": 0},
    "encoding": {
      "x": {"field": "t", "type": "temporal",
            "axis": {"orient": "top", "title": null, "labels": false, "tickCount": {"interval": "day", "step": 1}}},
      "y": {"field": "v", "type": "quantitative",
            "axis": {"orient": "right", "title": null, "labels": false, "values": [0, 20, 40, 60, 80, 100, 120]}}
    }
  }
],
"resolve": {"axis": {"x": "independent", "y": "independent"}}
}
